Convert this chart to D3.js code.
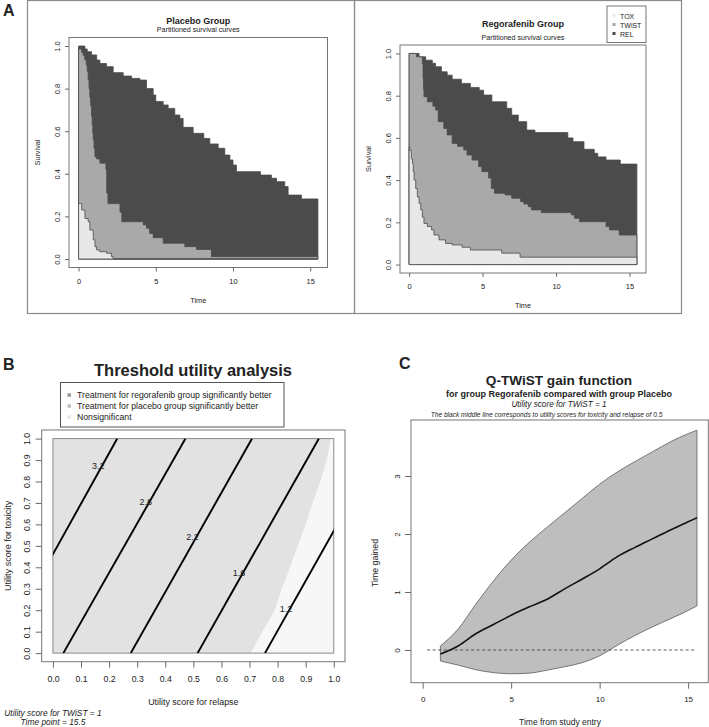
<!DOCTYPE html>
<html><head><meta charset="utf-8">
<script src="https://cdn.jsdelivr.net/npm/d3@7/dist/d3.min.js"></script>
<style>
body{margin:0;background:#fff}
svg text{font-family:"Liberation Sans",Arial,Helvetica,sans-serif;fill:#222}
</style>
</head><body>
<svg id="c" width="709" height="727"></svg>
<script>
// ---------------- DATA ----------------
const maxTime = 15.5;
// Panel A : partitioned survival step curves [time, survival]
const placeboOS = [[0,1.0],[0.41,0.986],[0.56,0.973],[0.84,0.958],[1.17,0.934],[1.38,0.918],[1.81,0.903],[2.24,0.875],[2.89,0.859],[3.43,0.848],[3.97,0.84],[4.4,0.80],[4.83,0.77],[5.0,0.739],[5.48,0.723],[5.8,0.707],[6.23,0.676],[6.56,0.66],[6.77,0.618],[7.42,0.59],[8.11,0.566],[8.5,0.54],[9.04,0.52],[9.47,0.488],[9.8,0.465],[10.0,0.441],[10.22,0.41],[11.78,0.394],[12.49,0.379],[12.82,0.363],[13.35,0.34],[13.57,0.30],[14.43,0.282]];
const placeboPFS = [[0,0.986],[0.2,0.97],[0.3,0.955],[0.4,0.935],[0.5,0.91],[0.56,0.88],[0.62,0.84],[0.68,0.80],[0.73,0.76],[0.78,0.72],[0.84,0.67],[0.88,0.63],[0.92,0.59],[0.95,0.56],[1.0,0.52],[1.06,0.48],[1.17,0.47],[1.38,0.45],[1.77,0.42],[1.82,0.31],[1.9,0.26],[2.68,0.22],[2.8,0.175],[4.19,0.16],[4.4,0.144],[4.6,0.12],[4.83,0.10],[5.48,0.074],[6.88,0.058],[7.64,0.045],[8.6,0.011]];
const placeboTOX = [[0,0.26],[0.2,0.23],[0.41,0.19],[0.62,0.175],[0.73,0.136],[0.95,0.09],[1.06,0.058],[1.17,0.042],[1.38,0.034],[1.81,0.027],[2.13,0.011],[2.24,0]];
const regoOS = [[0,1.0],[0.68,0.984],[1.13,0.968],[1.58,0.953],[1.8,0.937],[2.2,0.913],[2.59,0.897],[2.93,0.878],[3.56,0.858],[4.17,0.839],[4.77,0.826],[5.07,0.803],[5.63,0.771],[6.64,0.74],[6.98,0.708],[7.43,0.677],[8.0,0.637],[8.56,0.625],[10.8,0.60],[11.15,0.582],[11.9,0.546],[12.6,0.527],[12.84,0.51],[13.4,0.495],[14.37,0.476]];
const regoPFS = [[0,1.0],[0.5,0.984],[0.9,0.95],[0.95,0.88],[0.98,0.83],[1.01,0.795],[1.24,0.771],[1.62,0.75],[1.8,0.732],[1.98,0.677],[2.36,0.645],[2.59,0.614],[2.93,0.574],[3.3,0.56],[3.72,0.543],[3.94,0.519],[4.28,0.495],[4.73,0.464],[4.95,0.44],[5.41,0.41],[5.59,0.36],[5.81,0.338],[6.53,0.33],[6.98,0.314],[7.59,0.298],[7.81,0.287],[8.1,0.274],[8.33,0.259],[9.0,0.246],[11.04,0.235],[11.26,0.219],[11.6,0.203],[13.4,0.18],[13.63,0.164],[14.3,0.14]];
const regoTOX = [[0,0.558],[0.05,0.54],[0.15,0.50],[0.23,0.48],[0.28,0.44],[0.34,0.40],[0.45,0.36],[0.56,0.32],[0.68,0.29],[0.79,0.26],[0.9,0.225],[1.01,0.195],[1.24,0.18],[1.53,0.164],[1.69,0.14],[2.03,0.117],[2.48,0.10],[2.93,0.093],[3.6,0.082],[4.17,0.069],[6.3,0.054],[7.55,0.035]];
const survTicksX = [0,5,10,15];
const survTicksY = [0,0.2,0.4,0.6,0.8,1.0];
const stateNames = ["TOX","TWiST","REL"];

// Panel B : threshold utility analysis
const toxLevels = [0,0.1,0.2,0.3,0.4,0.5,0.6,0.7,0.8,0.9,1.0];
const sigBoundary = [0.705,0.745,0.79,0.815,0.845,0.872,0.90,0.925,0.952,0.975,0.99];
const contourLabels = ["3.2","2.6","2.2","1.6","1.2"];
const contourRelAtTox0 = [-0.196,0.037,0.277,0.515,0.755];
const contourRelAtTox1 = [0.229,0.472,0.709,0.947,1.185];
const contourLabelTox = [0.875,0.708,0.542,0.375,0.208];
const utilTicks = [0,0.1,0.2,0.3,0.4,0.5,0.6,0.7,0.8,0.9,1.0];
const thresholdLegend = ["Treatment for regorafenib group significantly better","Treatment for placebo group significantly better","Nonsignificant"];

// Panel C : Q-TWiST gain function
const gainTimes = [1,2,3,4,5,6,7,8,9,10,11,12,13,14,15,15.5];
const gainUpper = [0.07,0.36,0.79,1.19,1.55,1.85,2.11,2.36,2.61,2.86,3.07,3.25,3.42,3.59,3.73,3.79];
const gainMid   = [-0.07,0.07,0.28,0.44,0.60,0.74,0.87,1.05,1.22,1.40,1.61,1.77,1.92,2.07,2.21,2.28];
const gainLower = [-0.19,-0.26,-0.34,-0.39,-0.41,-0.40,-0.35,-0.29,-0.22,-0.10,0.08,0.25,0.40,0.54,0.68,0.76];
const gainTicksX = [0,5,10,15];
const gainTicksY = [0,1,2,3];
const zeroLineSpan = [0.25,15.4];

// ---------------- DRAW ----------------
const FONT = '"Liberation Sans",Arial,Helvetica,sans-serif';
const svg = d3.select("#c");
const fmt1 = d3.format(".1f");
const fmt0 = d3.format("d");

function styleAxis(g, fs){
  g.attr("font-family", FONT).attr("font-size", fs);
  g.select(".domain").remove();
  g.selectAll(".tick line").attr("stroke","#6a6a6a");
  g.selectAll(".tick text").attr("fill","#222");
}
function rotateYLabels(g, off){
  g.selectAll(".tick text").attr("x",null).attr("dy",null)
    .attr("text-anchor","middle").attr("transform",`translate(${-off},0) rotate(-90)`);
}
function txt(x,y,s,fs,opt={}){
  const t = svg.append("text").attr("x",x).attr("y",y).text(s).style("font-size",fs+"px")
    .attr("text-anchor",opt.anchor||"middle");
  if(opt.bold) t.style("font-weight","bold");
  if(opt.italic) t.style("font-style","italic");
  if(opt.rot) t.attr("transform",`rotate(-90,${x},${y})`);
  return t;
}
const defs = svg.append("defs");

// ---- Panel A ----
const stateFill = {TOX:"#e8e8e8", TWiST:"#a9a9a9", REL:"#4b4b4b"};
svg.append("rect").attr("x",27.5).attr("y",0.5).attr("width",327).attr("height",313).attr("fill","none").attr("stroke","#8a8a8a").attr("stroke-width",1.2);
svg.append("rect").attr("x",354.5).attr("y",0.5).attr("width",327).attr("height",313).attr("fill","none").attr("stroke","#8a8a8a").attr("stroke-width",1.2);

function survPanel(cfg){
  const x = d3.scaleLinear().domain([-0.04*maxTime, 1.04*maxTime]).range([cfg.left, cfg.right]);
  const y = d3.scaleLinear().domain([-0.04, 1.04]).range([cfg.bottom, cfg.top]);
  const g = svg.append("g");
  const area = d3.area().curve(d3.curveStepAfter).x(d=>x(d[0])).y0(y(0)).y1(d=>y(d[1]));
  const layers = [[cfg.os,"REL"],[cfg.pfs,"TWiST"],[cfg.tox,"TOX"]];
  layers.forEach(([data,state])=>{
    const pts = data.concat([[maxTime, data[data.length-1][1]]]);
    g.append("path").attr("d",area(pts)).attr("fill",stateFill[state])
      .attr("stroke","#4a4a4a").attr("stroke-width",0.8);
  });
  g.append("rect").attr("x",cfg.left).attr("y",cfg.top).attr("width",cfg.right-cfg.left).attr("height",cfg.bottom-cfg.top)
    .attr("fill","none").attr("stroke","#777").attr("stroke-width",1);
  const ax = g.append("g").attr("transform",`translate(0,${cfg.bottom})`)
    .call(d3.axisBottom(x).tickValues(survTicksX).tickFormat(fmt0).tickSize(4).tickPadding(7));
  styleAxis(ax, 7.5);
  const ay = g.append("g").attr("transform",`translate(${cfg.left},0)`)
    .call(d3.axisLeft(y).tickValues(survTicksY).tickFormat(fmt1).tickSize(4));
  styleAxis(ay, 7.5); rotateYLabels(ay, 9.5);
  const cx = (cfg.left+cfg.right)/2;
  txt(cx, cfg.bottom+35, "Time", 7.3);
  txt(cfg.left-29, y(0.5), "Survival", 7.3, {rot:true});
  txt(cx, cfg.titleY, cfg.title, 9, {bold:true});
  txt(cx, cfg.titleY+cfg.subGap, "Partitioned survival curves", 7.1);
  return {x,y};
}
survPanel({left:69,right:327.5,top:37.5,bottom:267.5,os:placeboOS,pfs:placeboPFS,tox:placeboTOX,title:"Placebo Group",titleY:23.5,subGap:8.5});
survPanel({left:400,right:646,top:45,bottom:273,os:regoOS,pfs:regoPFS,tox:regoTOX,title:"Regorafenib Group",titleY:27,subGap:12.5});
// legend panel A
svg.append("rect").attr("x",607).attr("y",6).attr("width",39).attr("height",36.5).attr("fill","#fff").attr("stroke","#777");
stateNames.forEach((s,i)=>{
  svg.append("rect").attr("x",612.5).attr("y",14+i*9).attr("width",3).attr("height",3).attr("fill",stateFill[s]);
  txt(620, 18.5+i*9, s, 7, {anchor:"start"});
});
txt(3, 16, "A", 16, {bold:true, anchor:"start"});

// ---- Panel B ----
(function(){
  const bx = {left:41.7,right:345,top:430,bottom:661.7};
  const x = d3.scaleLinear().domain([-0.04,1.04]).range([bx.left,bx.right]);
  const y = d3.scaleLinear().domain([-0.04,1.04]).range([bx.bottom,bx.top]);
  const g = svg.append("g");
  const pts = toxLevels.map((v,i)=>[sigBoundary[i],v]);
  const line = d3.line().x(d=>x(d[0])).y(d=>y(d[1]));
  const sigPath = line([[0,0]].concat(pts,[[0,1]])) + "Z";
  const nsPath = line(pts.concat([[1,1],[1,0]])) + "Z";
  g.append("path").attr("d",nsPath).attr("fill","#f7f7f7");
  g.append("path").attr("d",sigPath).attr("fill","#e2e2e2");
  defs.append("clipPath").attr("id","clipB").append("rect")
    .attr("x",x(0)).attr("y",y(1)).attr("width",x(1)-x(0)).attr("height",y(0)-y(1));
  g.append("rect").attr("x",x(0)).attr("y",y(1)).attr("width",x(1)-x(0)).attr("height",y(0)-y(1))
    .attr("fill","none").attr("stroke","#8a8a8a").attr("stroke-width",1);
  const cg = g.append("g").attr("clip-path","url(#clipB)");
  contourLabels.forEach((lab,i)=>{
    cg.append("line").attr("x1",x(contourRelAtTox0[i])).attr("y1",y(0))
      .attr("x2",x(contourRelAtTox1[i])).attr("y2",y(1)).attr("stroke","#000").attr("stroke-width",1.9);
  });
  contourLabels.forEach((lab,i)=>{
    const v = contourLabelTox[i];
    const u = contourRelAtTox0[i] + (contourRelAtTox1[i]-contourRelAtTox0[i])*v;
    g.append("text").attr("x",x(u)-4).attr("y",y(v)+3.5).attr("text-anchor","middle")
      .style("font-size","9px").attr("fill","#333").text(lab);
  });
  g.append("rect").attr("x",bx.left).attr("y",bx.top).attr("width",bx.right-bx.left).attr("height",bx.bottom-bx.top)
    .attr("fill","none").attr("stroke","#777").attr("stroke-width",1);
  const ax = g.append("g").attr("transform",`translate(0,${bx.bottom})`)
    .call(d3.axisBottom(x).tickValues(utilTicks).tickFormat(fmt1).tickSize(6).tickPadding(8));
  styleAxis(ax, 8.7);
  const ay = g.append("g").attr("transform",`translate(${bx.left},0)`)
    .call(d3.axisLeft(y).tickValues(utilTicks).tickFormat(fmt1).tickSize(6));
  styleAxis(ay, 8.7); rotateYLabels(ay, 11.5);
  txt((bx.left+bx.right)/2, 704.5, "Utility score for relapse", 8.9);
  txt(11, y(0.5), "Utility score for toxicity", 9.1, {rot:true});
  txt(53, 716, "Utility score for TWiST = 1", 8.4, {italic:true});
  txt(53, 724.5, "Time point = 15.5", 8.4, {italic:true});
  txt(193, 376, "Threshold utility analysis", 16.5, {bold:true});
  svg.append("rect").attr("x",60.5).attr("y",382.5).attr("width",223.5).attr("height",44.5).attr("fill","#fff").attr("stroke","#555");
  const legCol = ["#9a9a9a","#bdbdbd","#e6e6e6"];
  thresholdLegend.forEach((s,i)=>{
    svg.append("rect").attr("x",67.5).attr("y",393.3+i*11).attr("width",3.5).attr("height",3.5).attr("fill",legCol[i]);
    txt(77, 398+i*11, s, 8.7, {anchor:"start"});
  });
  txt(3, 370, "B", 16, {bold:true, anchor:"start"});
})();

// ---- Panel C ----
(function(){
  const bx = {left:411,right:708.3,top:420,bottom:682.7};
  const x = d3.scaleLinear().domain([-0.66,16.14]).range([bx.left,bx.right]);
  const y = d3.scaleLinear().domain([-0.564,3.966]).range([bx.bottom,bx.top]);
  const g = svg.append("g");
  const band = gainTimes.map((t,i)=>({t,lo:gainLower[i],hi:gainUpper[i],mid:gainMid[i]}));
  g.append("path").attr("d", d3.area().curve(d3.curveMonotoneX).x(d=>x(d.t)).y0(d=>y(d.lo)).y1(d=>y(d.hi))(band) + "Z")
    .attr("fill","#bebebe").attr("stroke","#5a5a5a").attr("stroke-width",0.8);
  g.append("line").attr("x1",x(zeroLineSpan[0])).attr("x2",x(zeroLineSpan[1])).attr("y1",y(0)).attr("y2",y(0))
    .attr("stroke","#333").attr("stroke-width",0.8).attr("stroke-dasharray","3,2.5");
  g.append("path").attr("d", d3.line().curve(d3.curveMonotoneX).x(d=>x(d.t)).y(d=>y(d.mid))(band))
    .attr("fill","none").attr("stroke","#111").attr("stroke-width",1.6);
  g.append("rect").attr("x",bx.left).attr("y",bx.top).attr("width",bx.right-bx.left).attr("height",bx.bottom-bx.top)
    .attr("fill","none").attr("stroke","#777").attr("stroke-width",1);
  const ax = g.append("g").attr("transform",`translate(0,${bx.bottom})`)
    .call(d3.axisBottom(x).tickValues(gainTicksX).tickFormat(fmt0).tickSize(6).tickPadding(8));
  styleAxis(ax, 8);
  const ay = g.append("g").attr("transform",`translate(${bx.left},0)`)
    .call(d3.axisLeft(y).tickValues(gainTicksY).tickFormat(fmt0).tickSize(6));
  styleAxis(ay, 8); rotateYLabels(ay, 11.5);
  txt(560, 724.5, "Time from study entry", 8.5);
  txt(378, y(1.5), "Time gained", 8.8, {rot:true});
  txt(559, 385, "Q-TWiST gain function", 13.6, {bold:true});
  txt(559, 397, "for group Regorafenib compared with group Placebo", 9, {bold:true});
  txt(559, 406.5, "Utility score for TWiST = 1", 8.2, {italic:true});
  txt(546.5, 416.5, "The black middle line corresponds to utility scores for toxicity and relapse of 0.5", 6.6, {italic:true});
  txt(399, 369, "C", 16, {bold:true, anchor:"start"});
})();
</script>
</body></html>
